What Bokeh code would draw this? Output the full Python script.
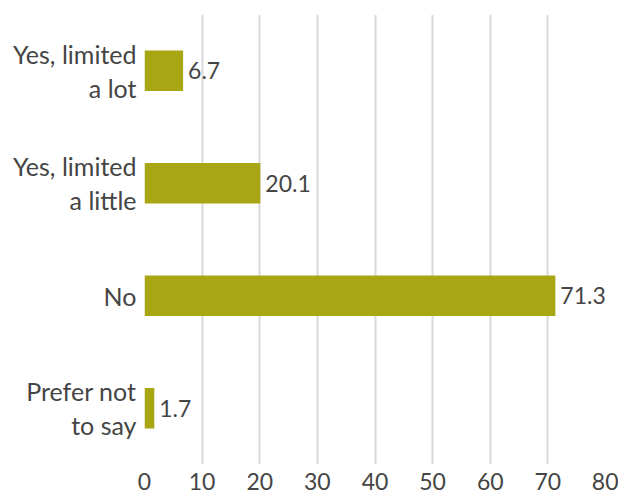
from bokeh.plotting import figure
from bokeh.models import ColumnDataSource, FixedTicker, LabelSet
from bokeh.core.properties import value
from bokeh.embed import file_html
from bokeh.resources import INLINE

categories = ["Yes, limited\na lot", "Yes, limited\na little", "No", "Prefer not\nto say"]
values = [6.7, 20.1, 71.3, 1.7]
value_labels = ["6.7", "20.1", "71.3", "1.7"]
x_ticks = [0, 10, 20, 30, 40, 50, 60, 70, 80]

FONT = "Lato"
TXT = "#454545"

src = ColumnDataSource(dict(cat=categories, val=values, lab=value_labels))

p = figure(width=618, height=493, y_range=list(reversed(categories)), x_range=(0, 80),
           output_backend="svg", toolbar_location=None,
           min_border_left=144, min_border_right=13, min_border_top=14, min_border_bottom=29)
p.outline_line_color = None
p.background_fill_color = None
p.border_fill_color = None

p.hbar(y="cat", right="val", left=0, height=0.36, source=src, color="#A9A614", line_color=None)

labels = LabelSet(x="val", y="cat", text="lab", source=src, x_offset=5, y_offset=0,
                  text_baseline="middle", text_align="left", text_font=value(FONT),
                  text_font_size="23px", text_color=TXT)
p.add_layout(labels)

p.xaxis.ticker = FixedTicker(ticks=x_ticks)
p.xgrid.ticker = FixedTicker(ticks=x_ticks)
p.xgrid.grid_line_color = "#d9d9d9"
p.xgrid.grid_line_width = 2
p.ygrid.grid_line_color = None

for ax in (p.xaxis, p.yaxis):
    ax.axis_line_color = None
    ax.major_tick_line_color = None
    ax.minor_tick_line_color = None
    ax.major_tick_out = 0
    ax.major_tick_in = 0
    ax.major_label_text_font = FONT
    ax.major_label_text_color = TXT
p.xaxis.major_label_text_font_size = "23px"
p.yaxis.major_label_text_font_size = "25px"
p.yaxis.major_label_text_line_height = 1.12
p.xaxis.major_label_standoff = 8
p.yaxis.major_label_standoff = 8

open("out.html", "w").write(file_html(p, INLINE))
